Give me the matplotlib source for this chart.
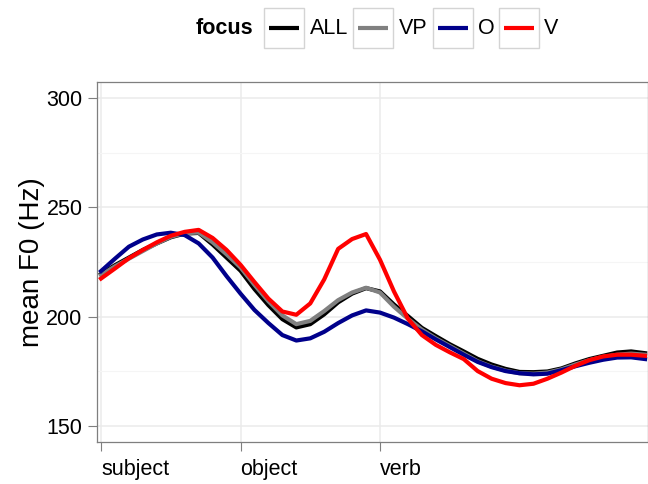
import numpy as np
import matplotlib
matplotlib.use('Agg')
from matplotlib import pyplot as plt
from matplotlib.patches import Rectangle

plt.rcParams['font.family'] = ['Liberation Sans', 'DejaVu Sans']

# normalised time: 0 = subject, 1 = object, 2 = verb
t = np.round(np.arange(0, 3.95, 0.1), 2)

f0_all = [219.5, 223.5, 227.0, 230.5, 233.5, 236.3, 238.0, 238.3, 233.0, 227.0,
          221.0, 212.6, 205.2, 198.8, 195.0, 196.5, 201.0, 206.5, 210.5, 213.0,
          211.5, 205.5, 200.2, 194.8, 191.0, 187.3, 184.0, 180.6, 178.0, 176.0,
          174.6, 174.5, 174.8, 176.2, 178.5, 180.5, 182.0, 183.5, 184.0, 183.2]
f0_vp = [219.0, 223.0, 226.5, 230.0, 233.5, 236.5, 238.2, 238.5, 234.0, 228.5,
         222.5, 214.5, 207.0, 200.5, 196.5, 198.0, 202.5, 207.5, 211.0, 213.2,
         211.0, 204.5, 199.0, 194.0, 190.0, 186.5, 183.0, 179.5, 177.0, 175.2,
         174.0, 173.8, 174.3, 175.8, 178.0, 180.0, 181.5, 182.5, 183.0, 182.5]
f0_o = [220.8, 226.5, 232.0, 235.3, 237.6, 238.4, 237.3, 233.5, 227.0, 218.5,
        210.5, 203.0, 197.0, 191.5, 189.0, 190.0, 193.0, 197.0, 200.5, 202.8,
        201.8, 199.5, 196.5, 193.2, 189.5, 186.0, 182.5, 179.2, 176.8, 175.0,
        174.0, 173.5, 173.8, 175.4, 177.2, 178.8, 180.2, 181.2, 181.3, 180.5]
f0_v = [217.4, 222.0, 226.7, 230.5, 234.0, 237.0, 238.8, 239.7, 236.0, 230.5,
        223.7, 215.8, 208.2, 202.3, 200.8, 206.0, 217.0, 231.0, 235.5, 237.8,
        226.0, 211.5, 199.0, 191.5, 187.0, 183.6, 180.5, 175.0, 171.5, 169.5,
        168.5, 169.2, 171.5, 174.3, 177.4, 180.0, 181.7, 182.5, 182.5, 182.0]

series = [('ALL', f0_all, 'black'), ('VP', f0_vp, '#808080'),
          ('O', f0_o, '#00008B'), ('V', f0_v, '#FF0000')]

tick_pos = [0, 1, 2]
tick_lab = ['subject', 'object', 'verb']
y_ticks = [150, 200, 250, 300]

fig = plt.figure(figsize=(6.48, 4.84), dpi=100)
ax = fig.add_axes([97 / 648, 42 / 484, 551 / 648, 360.3 / 484])

for name, vals, col in series:
    ax.plot(t, vals, color=col, lw=3, label=name, solid_joinstyle='round')

ax.set_xlim(-0.0287, 3.921)
ax.set_ylim(142.5, 307.6)
ax.set_xticks(tick_pos)
ax.set_xticklabels(tick_lab, ha='left')
ax.set_yticks(y_ticks)
ax.set_yticks([175, 225, 275], minor=True)
ax.grid(which='major', color='#ebebeb', lw=1.1)
ax.yaxis.grid(which='minor', color='#f5f5f5', lw=0.8)
ax.set_axisbelow(True)
ax.tick_params(axis='both', which='major', labelsize=15.5, colors='#7f7f7f',
               labelcolor='black', length=6.5, width=0.8, pad=4)
ax.tick_params(axis='x', which='major', pad=6)
ax.tick_params(axis='y', which='minor', length=0)
for sp in ax.spines.values():
    sp.set_color('#7f7f7f')
    sp.set_linewidth(0.9)

fig.text(31.7 / 648, 1 - 261.7 / 484, 'mean F0 (Hz)', rotation=90,
         ha='center', va='center', fontsize=20)

# legend drawn on top in pixel coordinates
lax = fig.add_axes([0, 0, 1, 1])
lax.set_xlim(0, 648)
lax.set_ylim(484, 0)
lax.axis('off')
lax.text(196, 29, 'focus', fontweight='bold', fontsize=15.5, ha='left', va='center')
keys = [(264, 310), (353, 399), (433, 478), (499, 544)]
for (bx, tx), (name, vals, col) in zip(keys, series):
    lax.add_patch(Rectangle((bx, 8), 40, 40, fill=False, ec='#d4d4d4', lw=1.0))
    lax.plot([bx + 5, bx + 35], [28, 28], color=col, lw=3, solid_capstyle='butt')
    lax.text(tx, 29, name, fontsize=15.5, ha='left', va='center')

fig.savefig('out.png', dpi=100)
